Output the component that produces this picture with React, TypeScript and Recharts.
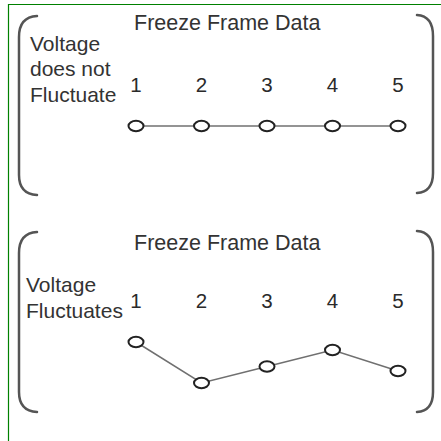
import React from 'react'
import { LineChart, Line, XAxis, YAxis } from 'recharts'

const frames = [1, 2, 3, 4, 5]
const steadyVoltage = [10.8, 10.8, 10.8, 10.8, 10.8]
const fluctuatingVoltage = [10.8, 2.6, 5.9, 9.2, 5.0]
const title = 'Freeze Frame Data'
const steadyLabel = ['Voltage', 'does not', 'Fluctuate']
const fluctLabel = ['Voltage', 'Fluctuates']

const FONT = '"Liberation Sans", Arial, sans-serif'
const TEXT = '#333'

const renderDot = (p: any) => (
  <ellipse
    key={`dot-${p.index}`}
    cx={p.cx}
    cy={p.cy}
    rx={7.5}
    ry={5.2}
    fill="#fff"
    stroke="#222"
    strokeWidth={2}
  />
)

function Panel({ values, top, margin }: { values: number[]; top: number; margin: any }) {
  const data = frames.map((f, i) => ({ frame: f, volt: values[i] }))
  return (
    <div style={{ position: 'absolute', left: 0, top, width: 441, height: 220 }}>
      <LineChart width={441} height={220} data={data} margin={margin}>
        <XAxis
          dataKey="frame"
          type="number"
          orientation="top"
          domain={[1, 5]}
          ticks={frames}
          interval={0}
          axisLine={false}
          tickLine={false}
          tickSize={0}
          tickMargin={8}
          height={30}
          tick={{ fontSize: 20.5, fill: '#2a2a2a', fontFamily: FONT }}
        />
        <YAxis hide domain={[0, 16]} />
        <Line
          dataKey="volt"
          stroke="#707070"
          strokeWidth={1.5}
          dot={renderDot}
          activeDot={false}
          isAnimationActive={false}
        />
      </LineChart>
    </div>
  )
}

export default function App() {
  return (
    <div style={{ position: 'absolute', left: 0, top: 0, width: 441, height: 441, background: '#fff', overflow: 'hidden' }}>
      <svg width={441} height={441} style={{ position: 'absolute', left: 0, top: 0 }}>
        <line x1={8.5} y1={4} x2={8.5} y2={441} stroke="#008000" strokeWidth={1.2} />
        <line x1={8} y1={4.5} x2={441} y2={4.5} stroke="#008000" strokeWidth={1.2} />

        <g fill="none" stroke="#555" strokeWidth={2.5} strokeLinecap="round">
          <path d="M37,16 Q19,17 19,37 L19,175 Q19,194 37,195" />
          <path d="M417,15 Q433,16 433,36 L433,173 Q433,192 417,193" />
          <path d="M37,232 Q19,233 19,253 L19,392 Q19,411 37,412" />
          <path d="M417,231 Q433,232 433,252 L433,392 Q433,411 417,412" />
        </g>

        <g fontFamily={FONT} fill={TEXT}>
          <text x={134} y={30} fontSize={21.5}>{title}</text>
          {steadyLabel.map((t, i) => (
            <text key={t} x={30} y={50.5 + i * 25.5} fontSize={21}>{t}</text>
          ))}
          <text x={134} y={249.5} fontSize={21.5}>{title}</text>
          {fluctLabel.map((t, i) => (
            <text key={t} x={26} y={292 + i * 26} fontSize={21}>{t}</text>
          ))}
        </g>
      </svg>
      <Panel values={steadyVoltage} top={0} margin={{ top: 70, right: 43, bottom: 40, left: 136 }} />
      <Panel values={fluctuatingVoltage} top={220} margin={{ top: 66, right: 43, bottom: 44, left: 136 }} />
    </div>
  )
}
